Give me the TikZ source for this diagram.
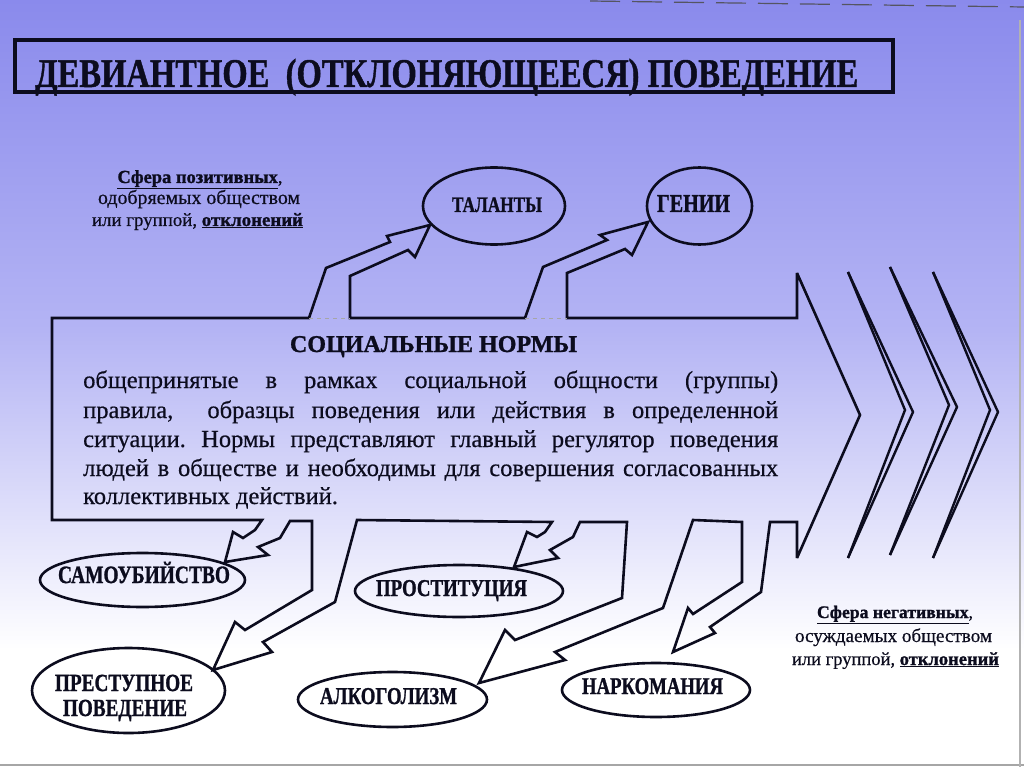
\documentclass[tikz,border=0pt]{standalone}
\usepackage{fontspec}
\setmainfont{Liberation Serif}[BoldFont={Liberation Serif Bold},UprightFeatures={FakeBold=0.5},BoldFeatures={FakeBold=1.2}]
\usetikzlibrary{shapes.geometric}
\definecolor{bgA}{RGB}{138,138,236}
\definecolor{bgB}{RGB}{180,180,244}
\definecolor{ink}{RGB}{12,12,30}
\newcommand\blab[2]{\resizebox{#1}{!}{\scalebox{0.78}[1]{\bfseries #2}}}
\newcommand\rlab[2]{\resizebox{#1}{!}{#2}}
\frenchspacing
\begin{document}
\begin{tikzpicture}[x=1pt,y=-1pt,
  outl/.style={draw=ink,line width=2.6pt,line join=miter,miter limit=4},
  chev/.style={draw=ink,line width=2.4pt,line join=miter,miter limit=8},
  ell/.style={ellipse,draw=ink,line width=2.6pt,inner sep=0pt},
  lab/.style={anchor=base,inner sep=0pt,text=ink},
  para/.style={anchor=base west,inner sep=0pt,text=ink,font=\fontsize{24.5}{29}\selectfont},
  side/.style={anchor=base,inner sep=0pt,text=ink,font=\fontsize{20}{24}\selectfont}]
\useasboundingbox (0,0) rectangle (1024,767);
% background
\fill[top color=bgA,bottom color=bgB] (0,0) rectangle (1024,330);
\fill[top color=bgB,bottom color=white] (0,330) rectangle (1024,650);
\fill[white] (0,650) rectangle (1024,767);
% frame artifacts
\draw[gray!70,line width=2pt] (0,765) -- (1024,765);
\draw[gray!60,line width=1.5pt] (1020,20) -- (1020,767);
\draw[ink!70,line width=1.2pt,dash pattern=on 30pt off 12pt] (590,1) -- (1024,7);
% title
\node[draw=ink,line width=4.5pt,minimum width=878pt,minimum height=52pt,inner sep=0pt] (tbox) at (454,66) {};
\node[lab,anchor=base west] (title) at (35,87) {\resizebox{823pt}{!}{\scalebox{0.8}[1]{\bfseries ДЕВИАНТНОЕ\ \ (ОТКЛОНЯЮЩЕЕСЯ) ПОВЕДЕНИЕ}}};
% side texts
\node[side] (p1) at (200,183) {\rlab{165pt}{\textbf{\underline{Сфера позитивных}},}};
\node[side] (p2) at (199,204) {\rlab{202pt}{одобряемых обществом}};
\node[side] (p3) at (197.5,226) {\rlab{211pt}{или группой, \textbf{\underline{отклонений}}}};
\node[side] (n1) at (895,618) {\rlab{156pt}{\textbf{\underline{Сфера негативных}},}};
\node[side] (n2) at (893.5,642) {\rlab{197pt}{осуждаемых обществом}};
\node[side] (n3) at (895.5,665) {\rlab{207pt}{или группой, \textbf{\underline{отклонений}}}};
% ellipses
\node[ell,minimum width=142pt,minimum height=77pt] (tal) at (494,206) {};
\node[ell,minimum width=105pt,minimum height=77pt] (gen) at (699.5,206) {};
\node[ell,minimum width=205pt,minimum height=54pt] (sam) at (142.5,580) {};
\node[ell,minimum width=193pt,minimum height=85pt] (pre) at (128.5,690.5) {};
\node[ell,minimum width=208pt,minimum height=52pt] (pro) at (459,591) {};
\node[ell,minimum width=189pt,minimum height=55pt] (alk) at (392.5,699.5) {};
\node[ell,minimum width=188pt,minimum height=54pt] (nar) at (656,690) {};
\node[lab] (talT) at (497,212) {\blab{90pt}{ТАЛАНТЫ}};
\node[lab] (genT) at (693.5,212) {\blab{73pt}{ГЕНИИ}};
\node[lab] (samT) at (144,583) {\blab{172pt}{САМОУБИЙСТВО}};
\node[lab] (preT1) at (124,691) {\blab{138pt}{ПРЕСТУПНОЕ}};
\node[lab] (preT2) at (125,716) {\blab{124pt}{ПОВЕДЕНИЕ}};
\node[lab] (proT) at (451.5,596) {\blab{151pt}{ПРОСТИТУЦИЯ}};
\node[lab] (alkT) at (388.5,704) {\blab{137pt}{АЛКОГОЛИЗМ}};
\node[lab] (narT) at (652.5,694) {\blab{141pt}{НАРКОМАНИЯ}};
% main block arrow with branches
\draw[outl] (309,318) -- (52,318) -- (52,520) -- (262,520)
  -- (255,530) -- (243,538) -- (233,532) -- (225,562) -- (268,555) -- (258,547) -- (280,538) -- (290,521)
  -- (312,521) -- (312,590) -- (245,630) -- (235,622) -- (213,670) -- (272,652) -- (263,642) -- (335,602) -- (357,520)
  -- (552,522) -- (545,532) -- (537,537) -- (527,532) -- (514,567) -- (558,558) -- (550,550) -- (573,537) -- (580,522)
  -- (627,522) -- (622,598) -- (515,640) -- (505,630) -- (479,683) -- (565,660) -- (555,652) -- (663,608) -- (693,520)
  -- (742,522) -- (742,582) -- (693,614) -- (688,608) -- (673,652) -- (715,633) -- (710,627) -- (761,592) -- (770,522)
  -- (797,522) -- (797,558) -- (860,415) -- (797,273) -- (797,318)
  -- (567,318) -- (567,273) -- (625,249) -- (632,255) -- (648,222) -- (600,235) -- (607,240) -- (543,267) -- (525,318)
  -- (350,318) -- (350,276) -- (408,250) -- (415,257) -- (430,225) -- (387,236) -- (390,242) -- (326,268) -- cycle;
\draw[gray!70,line width=0.8pt,dash pattern=on 4pt off 4pt] (309,318) -- (350,318);
\draw[gray!70,line width=0.8pt,dash pattern=on 4pt off 4pt] (525,318) -- (567,318);
% text in arrow
\node[lab] (sn) at (433.5,352) {\resizebox{287pt}{!}{\bfseries СОЦИАЛЬНЫЕ НОРМЫ}};
\node[para] (t1) at (83,388) {\makebox[695pt][s]{общепринятые в рамках социальной общности (группы)}};
\node[para] (t2) at (83,418) {\makebox[695pt][s]{правила, \ образцы поведения или действия в определенной}};
\node[para] (t3) at (83,447) {\makebox[695pt][s]{ситуации. Нормы представляют главный регулятор поведения}};
\node[para] (t4) at (83,476) {\makebox[695pt][s]{людей в обществе и необходимы для совершения согласованных}};
\node[para] (t5) at (83,504) {коллективных действий.};
% chevrons
\draw[chev] (848,272) -- (913,412) -- (848,558);
\draw[chev] (848,272) -- (905,410) -- (848,558);
\draw[chev] (890,267) -- (957,407) -- (890,555);
\draw[chev] (890,267) -- (949,405) -- (890,555);
\draw[chev] (933,272) -- (998,412) -- (933,558);
\draw[chev] (933,272) -- (990,410) -- (933,558);
\end{tikzpicture}
\end{document}
